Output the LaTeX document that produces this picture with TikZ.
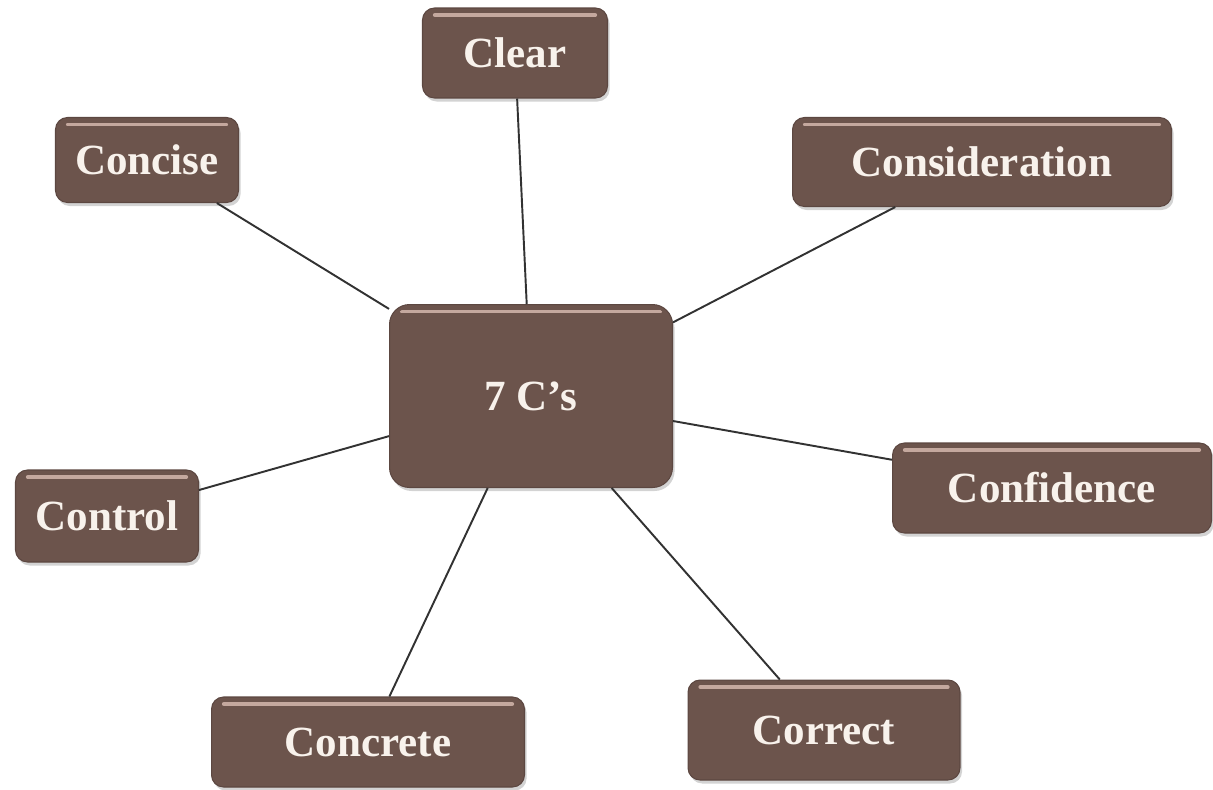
\documentclass[tikz,border=0pt]{standalone}
\usepackage{fontspec}
\setmainfont{Liberation Serif}
\usetikzlibrary{shadows}

\definecolor{boxbrown}{RGB}{108,84,76}
\definecolor{boxhi}{RGB}{196,168,158}
\definecolor{boxtext}{RGB}{248,242,236}
\definecolor{linkgray}{RGB}{50,50,50}

\tikzset{
  cbox/.style={draw=boxbrown!85!black, line width=0.6pt, fill=boxbrown, rounded corners=0.24cm,
    text=boxtext, font=\fontsize{24.5}{28}\selectfont\bfseries, inner sep=0pt,
    drop shadow={opacity=0.35, shadow xshift=1.2pt, shadow yshift=-2pt},
    path picture={\draw[boxhi, line width=2.2pt, line cap=round]
      ([xshift=7pt,yshift=-4pt]path picture bounding box.north west) --
      ([xshift=-7pt,yshift=-4pt]path picture bounding box.north east);}},
  link/.style={draw=linkgray, line width=1.1pt}
}

\begin{document}
\begin{tikzpicture}[x=0.02cm, y=-0.02cm]
\useasboundingbox (0,0) rectangle (1213,789);

\node[cbox, minimum width=5.66cm, minimum height=3.66cm, rounded corners=0.4cm] (hub) at (531,396){7 C’s};

\node[cbox, minimum width=3.7cm, minimum height=1.8cm] (clear) at (515,53){Clear};
\node[cbox, minimum width=3.66cm, minimum height=1.7cm] (concise) at (147,160){Concise};
\node[cbox, minimum width=7.58cm, minimum height=1.78cm] (consid) at (982,162){Consideration};
\node[cbox, minimum width=6.38cm, minimum height=1.8cm] (confid) at (1052,488){Confidence};
\node[cbox, minimum width=3.66cm, minimum height=1.84cm] (control) at (107,516){Control};
\node[cbox, minimum width=6.26cm, minimum height=1.8cm] (concrete) at (368,742){Concrete};
\node[cbox, minimum width=5.44cm, minimum height=2.0cm] (correct) at (824,730){Correct};

% links from the hub
\foreach \n in {clear,concise,consid,confid,control,concrete,correct}
  \draw[link] (hub) -- (\n);

\end{tikzpicture}
\end{document}
